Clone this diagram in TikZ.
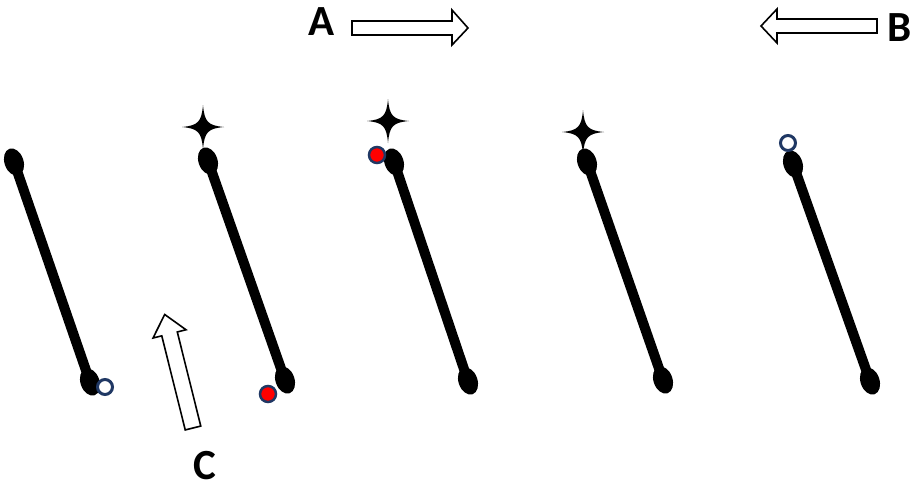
\documentclass[tikz,border=0pt]{standalone}
\usepackage{fontspec}
\setmainfont{Carlito}
\usetikzlibrary{shapes.geometric}
\definecolor{ringblue}{RGB}{32,56,100}
\tikzset{
	blob/.style={ellipse, fill=black, inner sep=0pt, minimum width=19pt, minimum height=28pt, rotate=19},
	stick/.style={line width=10pt},
	ring/.style={circle, draw=ringblue, line width=3pt, fill=white, inner sep=0pt, minimum size=15pt},
	dot/.style={circle, draw=ringblue, line width=2.5pt, fill=red, inner sep=0pt, minimum size=16pt},
	letter/.style={font=\fontsize{43}{43}\selectfont\bfseries, inner sep=0pt},
	fat/.style={draw=black, line width=1.6pt, fill=white, line join=miter},
	sparkle/.pic={
		\fill (0,-22) .. controls (1.5,-5) and (5,-1.5) .. (21,0)
			.. controls (5,1.5) and (1.5,5) .. (0,22)
			.. controls (-1.5,5) and (-5,1.5) .. (-21,0)
			.. controls (-5,-1.5) and (-1.5,-5) .. cycle;
	}
}
\begin{document}
\begin{tikzpicture}[x=1pt, y=-1pt]
	\useasboundingbox (0,0) rectangle (917,490);
	% sticks
	\node[blob] (t1) at (14,162) {};
	\node[blob] (b1) at (90,382) {};
	\node[blob] (t2) at (208,161) {};
	\node[blob] (b2) at (285,380) {};
	\node[blob] (t3) at (394,162) {};
	\node[blob] (b3) at (468,381) {};
	\node[blob] (t4) at (587,162) {};
	\node[blob] (b4) at (663,380) {};
	\node[blob] (t5) at (793,164) {};
	\node[blob] (b5) at (870,381) {};
	\foreach \i in {1,...,5}
		\draw[stick] (t\i.center) -- (b\i.center);
	% markers
	\node[ring] (o1) at (105,387) {};
	\node[dot] (r2) at (268,394) {};
	\node[dot] (r3) at (377,155) {};
	\node[ring] (o5) at (788,143) {};
	\pic at (203,127) {sparkle};
	\pic at (388,121) {sparkle};
	\pic at (583,132) {sparkle};
	% arrows
	\draw[fat] (352,21) -- (452,21) -- (452,10) -- (468,28) -- (452,45) -- (452,35) -- (352,35) -- cycle;
	\draw[fat] (877,19) -- (777,19) -- (777,9) -- (761,26) -- (777,43) -- (777,33) -- (877,33) -- cycle;
	\begin{scope}[shift={(193,428)}, rotate=104]
		\draw[fat] (0,-8) -- (97,-8) -- (97,-17) -- (117,0) -- (97,17) -- (97,8) -- (0,8) -- cycle;
	\end{scope}
	% labels
	\node[letter] (A) at (322,22) {A};
	\node[letter] (B) at (900,28) {B};
	\node[letter] (C) at (205,466) {C};
\end{tikzpicture}
\end{document}
